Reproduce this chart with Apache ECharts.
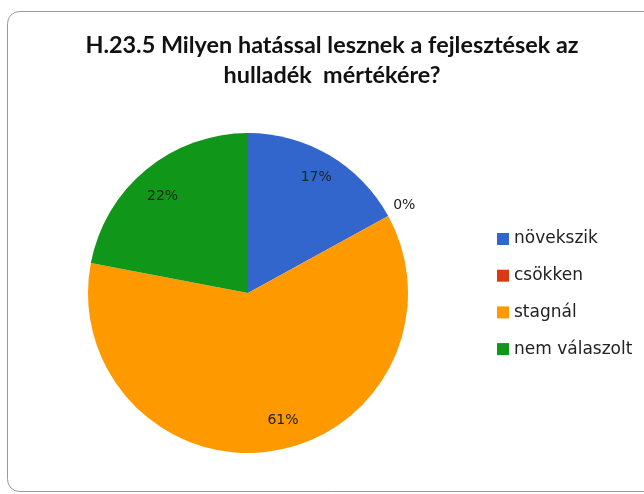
<!DOCTYPE html>
<html>
<head>
    <meta charset="utf-8">
    <title>H.23.5</title>
    <script src="https://cdn.jsdelivr.net/npm/echarts@6/dist/echarts.min.js"></script>
    <style>
        html, body {margin: 0; padding: 0; background: #fff;}
        #main {width: 644px; height: 494px;}
    </style>
</head>
<body>
<div id="main"></div>
<script>
    // adatok
    var categories = ['növekszik', 'csökken', 'stagnál', 'nem válaszolt'];
    var values = [17, 0, 61, 22];
    var colors = ['#3366CC', '#DC3912', '#FF9900', '#109618'];

    var pieData = categories.map(function (name, i) {
        return {name: name, value: values[i], itemStyle: {color: colors[i]}};
    });

    // csak a feliratokhoz: átlátszó gyűrű
    var labelData = categories.map(function (name, i) {
        var item = {name: name, value: values[i], itemStyle: {color: 'rgba(0,0,0,0)'}};
        if (values[i] === 0) {
            // üres második sor, hogy a felirat a szelet széle fölé kerüljön
            item.label = {position: 'outside', formatter: '{c}%\n ', lineHeight: 22};
        }
        return item;
    });
    // Excel-szerű kis eltolások (üres sorral / bal paddinggel)
    labelData[2].label = {formatter: '{c}%\n ', lineHeight: 9, padding: [0, 0, 0, 28]};
    labelData[3].label = {formatter: ' \n{c}%', lineHeight: 14};

    var myChart = echarts.init(document.getElementById('main'));
    var option = {
        animation: false,
        title: {
            text: 'H.23.5 Milyen hatással lesznek a fejlesztések az\nhulladék  mértékére?',
            left: 327,
            textAlign: 'center',
            top: 25,
            textStyle: {
                fontFamily: 'Lato',
                fontWeight: 'bold',
                fontSize: 23.4,
                lineHeight: 30,
                color: '#111'
            }
        },
        legend: {
            orient: 'vertical',
            left: 492,
            top: 225,
            itemWidth: 12,
            itemHeight: 12,
            itemGap: 18.7,
            icon: 'rect',
            data: categories,
            textStyle: {
                fontFamily: 'DejaVu Sans',
                fontSize: 17,
                lineHeight: 18,
                color: '#222'
            }
        },
        graphic: [{
            type: 'rect',
            silent: true,
            shape: {x: 7.5, y: 11.5, width: 700, height: 480, r: 12},
            style: {fill: 'none', stroke: '#999', lineWidth: 1}
        }],
        series: [{
            name: 'H.23.5',
            type: 'pie',
            center: [248, 293],
            radius: 160,
            startAngle: 90,
            clockwise: true,
            silent: true,
            label: {show: false},
            labelLine: {show: false},
            data: pieData
        }, {
            name: 'feliratok',
            type: 'pie',
            center: [248, 293],
            radius: [102, 160],
            startAngle: 90,
            clockwise: true,
            silent: true,
            avoidLabelOverlap: false,
            label: {
                show: true,
                position: 'inside',
                formatter: '{c}%',
                fontFamily: 'DejaVu Sans',
                fontSize: 14,
                color: '#222'
            },
            labelLine: {show: false, length: 0, length2: 0},
            data: labelData
        }]
    };
    myChart.setOption(option);
</script>
</body>
</html>
